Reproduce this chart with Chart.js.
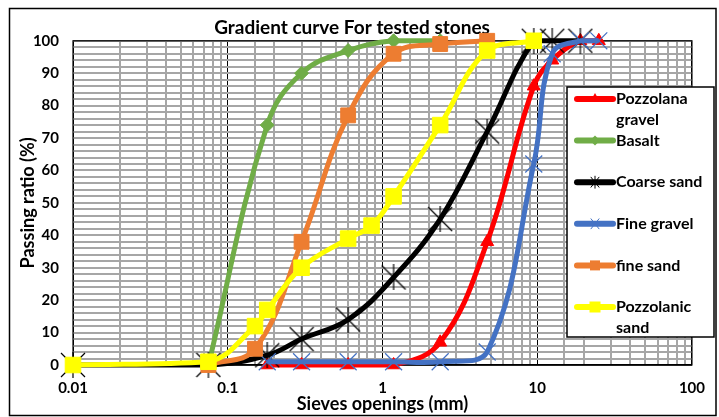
<!DOCTYPE html>
<html>
<head>
<meta charset="utf-8">
<script src="https://cdn.jsdelivr.net/npm/chart.js@4.4.0/dist/chart.umd.min.js"></script>
<style>
  html, body { margin: 0; padding: 0; background: #fff; }
  #wrap { width: 719px; height: 417px; position: relative; }
</style>
</head>
<body>
<div id="wrap"><canvas id="chartGrading" width="719" height="417"></canvas></div>
<script>
// sieve openings (mm) and passing (%) per material
const pozzolanaGravelSieve = [0.18, 0.3, 0.6, 1.18, 2.36, 4.75, 9.5, 12.5, 19, 25]
const pozzolanaGravelPass = [0, 0, 0, 0, 7, 38, 86, 94, 100, 100]

const basaltSieve = [0.075, 0.18, 0.3, 0.6, 1.18, 2.36]
const basaltPass = [0, 74, 90, 97, 100, 100]

const coarseSandSieve = [0.01, 0.075, 0.18, 0.3, 0.6, 1.18, 2.36, 4.75, 9.5, 12.5, 19]
const coarseSandPass = [0, 0, 3, 8, 14, 27, 45, 72, 100, 100, 100]

const fineGravelSieve = [0.18, 0.3, 0.6, 1.18, 2.36, 4.75, 9.5, 12.5, 19, 25]
const fineGravelPass = [1, 1, 1, 1, 1, 4, 62, 96, 100, 100]

const fineSandSieve = [0.075, 0.15, 0.3, 0.6, 1.18, 2.36, 4.75]
const fineSandPass = [0, 5, 38, 77, 96, 99, 100]

const pozzolanicSandSieve = [0.01, 0.075, 0.15, 0.18, 0.3, 0.6, 0.85, 1.18, 2.36, 4.75, 9.5]
const pozzolanicSandPass = [0, 1, 12, 17, 30, 39, 43, 52, 74, 97, 100]

const seriesNames = ['Pozzolana gravel', 'Basalt', 'Coarse sand', 'Fine gravel', 'fine sand', 'Pozzolanic sand']
const legendLines = [['Pozzolana', 'gravel'], ['Basalt'], ['Coarse sand'], ['Fine gravel'], ['fine sand'], ['Pozzolanic', 'sand']]
const xTickLabels = ['0.01', '0.1', '1', '10', '100']

const seriesSieves = [pozzolanaGravelSieve, basaltSieve, coarseSandSieve, fineGravelSieve, fineSandSieve, pozzolanicSandSieve]
const seriesPass = [pozzolanaGravelPass, basaltPass, coarseSandPass, fineGravelPass, fineSandPass, pozzolanicSandPass]

const colors = ['#ff0000', '#70ad47', '#000000', '#4472c4', '#ed7d31', '#ffff00']

Chart.defaults.font.family = 'Lato'
Chart.defaults.color = '#000'

// excel style star: X plus a vertical bar
function starMarker (size, width) {
  const c = document.createElement('canvas')
  c.width = size
  c.height = size
  const g = c.getContext('2d')
  g.strokeStyle = '#000'
  g.lineWidth = width
  const m = size / 2
  g.beginPath()
  g.moveTo(1, 1); g.lineTo(size - 1, size - 1)
  g.moveTo(size - 1, 1); g.lineTo(1, size - 1)
  g.moveTo(m, 0); g.lineTo(m, size)
  g.stroke()
  return c
}

const markers = [
  { pointStyle: 'triangle', pointRadius: 7.5, pointBorderWidth: 1 },
  { pointStyle: 'rectRot', pointRadius: 7, pointBorderWidth: 1 },
  { pointStyle: starMarker(26, 1.2), pointRadius: 12, pointBorderWidth: 1 },
  { pointStyle: 'crossRot', pointRadius: 12, pointBorderWidth: 1.2 },
  { pointStyle: 'rect', pointRadius: 10.5, pointBorderWidth: 1 },
  { pointStyle: 'rect', pointRadius: 11, pointBorderWidth: 1 }
]

const datasets = seriesNames.map((name, i) => Object.assign({
  label: name,
  data: seriesSieves[i].map((x, j) => ({ x: x, y: seriesPass[i][j] })),
  borderColor: colors[i],
  backgroundColor: colors[i],
  pointBackgroundColor: colors[i],
  pointBorderColor: colors[i],
  borderWidth: 5,
  borderJoinStyle: 'round',
  tension: 0.4,
  fill: false,
  clip: false,
  order: seriesNames.length - i
}, markers[i]))

function isDecade (v) {
  const k = Math.log10(v)
  return Math.abs(k - Math.round(k)) < 1e-6
}

function legendMarker (ctx, i, x, y) {
  ctx.save()
  ctx.fillStyle = colors[i]
  ctx.strokeStyle = colors[i]
  ctx.lineWidth = 1
  ctx.beginPath()
  if (i === 0) {
    ctx.moveTo(x, y - 6); ctx.lineTo(x + 5, y + 3); ctx.lineTo(x - 5, y + 3); ctx.closePath(); ctx.fill()
  } else if (i === 1) {
    ctx.moveTo(x, y - 5); ctx.lineTo(x + 5, y); ctx.lineTo(x, y + 5); ctx.lineTo(x - 5, y); ctx.closePath(); ctx.fill()
  } else if (i === 2) {
    ctx.strokeStyle = '#000'
    ctx.moveTo(x - 4, y - 5); ctx.lineTo(x + 4, y + 5)
    ctx.moveTo(x + 4, y - 5); ctx.lineTo(x - 4, y + 5)
    ctx.moveTo(x, y - 6); ctx.lineTo(x, y + 6)
    ctx.stroke()
  } else if (i === 3) {
    ctx.moveTo(x - 4, y - 5); ctx.lineTo(x + 4, y + 5)
    ctx.moveTo(x + 4, y - 5); ctx.lineTo(x - 4, y + 5)
    ctx.stroke()
  } else {
    const s = i === 4 ? 5 : 5.5
    ctx.rect(x - s, y - s, 2 * s, 2 * s); ctx.fill()
  }
  ctx.restore()
}

const framePlugin = {
  id: 'frame',
  beforeDraw (chart) {
    const ctx = chart.ctx
    ctx.save()
    ctx.fillStyle = '#fff'
    ctx.fillRect(0, 0, chart.width, chart.height)
    ctx.strokeStyle = '#000'
    ctx.lineWidth = 1.5
    ctx.strokeRect(9.5, 8.5, 706.5, 407)
    ctx.restore()
  },
  beforeDatasetsDraw (chart) {
    const a = chart.chartArea
    const ctx = chart.ctx
    ctx.save()
    ctx.strokeStyle = '#000'
    ctx.lineWidth = 1.2
    ctx.strokeRect(a.left, a.top, a.right - a.left, a.bottom - a.top)
    ctx.restore()
  },
  afterDraw (chart) {
    const ctx = chart.ctx
    ctx.save()
    ctx.fillStyle = '#fff'
    ctx.fillRect(567, 87, 147, 250)
    ctx.strokeStyle = '#000'
    ctx.lineWidth = 1.5
    ctx.strokeRect(567, 87, 147, 250)
    ctx.font = 'bold 16px Lato'
    ctx.textBaseline = 'middle'
    legendLines.forEach((lines, i) => {
      const y = 99 + i * 41.6
      ctx.strokeStyle = colors[i]
      ctx.lineWidth = 6
      ctx.lineCap = 'round'
      ctx.beginPath()
      ctx.moveTo(577, y)
      ctx.lineTo(613, y)
      ctx.stroke()
      legendMarker(ctx, i, 595, y)
      ctx.fillStyle = '#000'
      lines.forEach((t, j) => ctx.fillText(t, 616, y + j * 21))
    })
    ctx.restore()
  }
}

const ctx = document.getElementById('chartGrading').getContext('2d')
const chart = new Chart(ctx, {
  type: 'line',
  data: { datasets: datasets },
  plugins: [framePlugin],
  options: {
    responsive: false,
    animation: false,
    layout: { padding: { left: 9, right: 24, top: 0, bottom: 0 } },
    plugins: {
      legend: { display: false },
      tooltip: { enabled: false },
      title: {
        display: true,
        text: 'Gradient curve For tested stones',
        color: '#000',
        font: { size: 19, weight: 'bold' },
        padding: { top: 16, bottom: 2 }
      }
    },
    scales: {
      x: {
        type: 'logarithmic',
        min: 0.01,
        max: 100,
        afterFit: (s) => { s.height = 52 },
        border: { color: '#000', width: 1.5 },
        grid: {
          drawTicks: false,
          color: (c) => isDecade(c.tick.value) ? '#000' : '#a6a6a6',
          lineWidth: (c) => isDecade(c.tick.value) ? 1 : 2
        },
        ticks: {
          autoSkip: false,
          maxRotation: 0,
          padding: 14,
          color: '#000',
          font: { size: 15, weight: 'bold' },
          callback: (v) => isDecade(v) ? xTickLabels[Math.round(Math.log10(v)) + 2] : ''
        },
        title: {
          display: true,
          text: 'Sieves openings (mm)',
          color: '#000',
          font: { size: 18, weight: 'bold' },
          padding: { top: 0, bottom: 2 }
        }
      },
      y: {
        min: 0,
        max: 100,
        afterFit: (s) => { s.width = 64 },
        border: { display: false },
        grid: { drawTicks: false, color: '#a6a6a6', lineWidth: 2 },
        ticks: {
          stepSize: 2,
          autoSkip: false,
          padding: 14,
          color: '#000',
          font: { size: 15, weight: 'bold' },
          callback: (v) => v % 10 === 0 ? String(v) : ''
        },
        title: {
          display: true,
          text: 'Passing ratio (%)',
          color: '#000',
          font: { size: 18, weight: 'bold' },
          padding: { top: 8, bottom: 0 }
        }
      }
    }
  }
})
</script>
</body>
</html>
